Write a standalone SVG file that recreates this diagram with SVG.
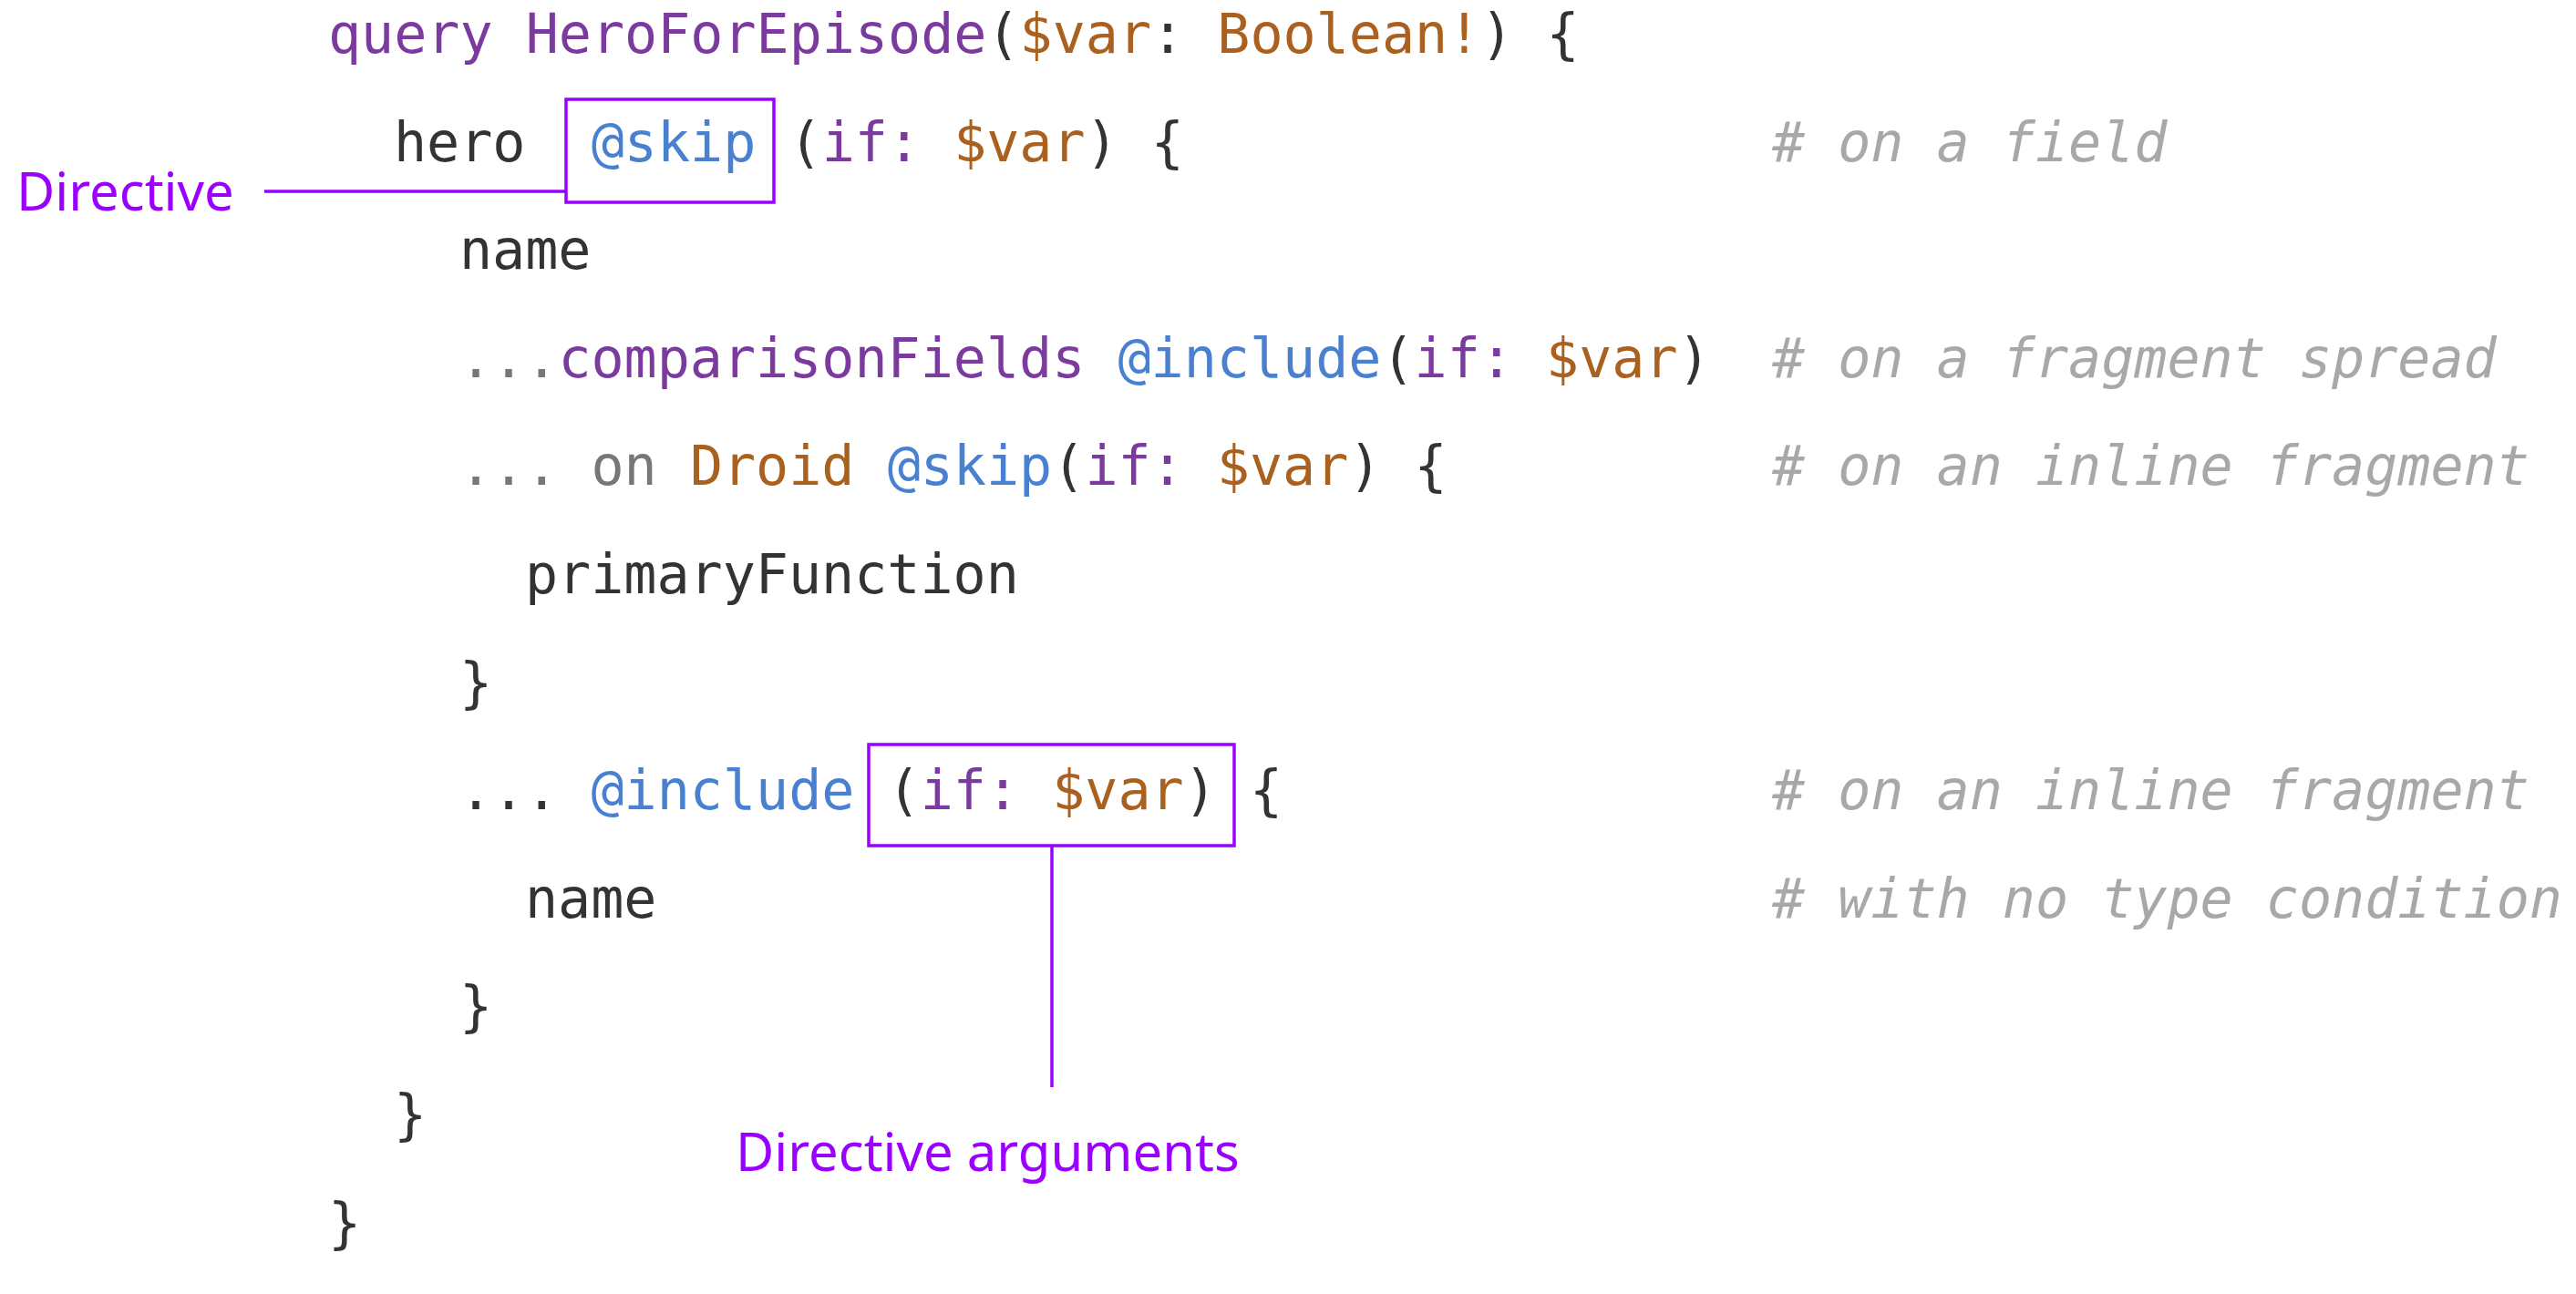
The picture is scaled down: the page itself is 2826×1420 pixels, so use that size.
<svg xmlns="http://www.w3.org/2000/svg" width="2826" height="1420" viewBox="0 0 2826 1420">
<style>
.c{font-family:"DejaVu Sans Mono","Liberation Mono",monospace;font-size:60px;fill:#333}
.k{fill:#7b3a9e}.v{fill:#aa6120}.d{fill:#4a80d0}.g{fill:#777}
.cm{fill:#a8a8a8;font-style:italic}
.lab{font-family:"Noto Sans","Open Sans",sans-serif;font-size:58px;fill:#9b00ff}
.ln{fill:none;stroke:#9b00ff;stroke-width:3.5}
</style>
<rect width="2826" height="1420" fill="#fff"/>
<g id="code" class="c">
<text x="360" y="58"><tspan class="k">query HeroForEpisode</tspan>(<tspan class="v">$var</tspan>: <tspan class="v">Boolean!</tspan>) {</text>
<text x="432" y="177">hero&#160;&#160;<tspan class="d">@skip</tspan> (<tspan class="k">if:</tspan> <tspan class="v">$var</tspan>) {</text>
<text x="504" y="295">name</text>
<text x="504" y="414"><tspan class="g">...</tspan><tspan class="k">comparisonFields</tspan> <tspan class="d">@include</tspan>(<tspan class="k">if:</tspan> <tspan class="v">$var</tspan>)</text>
<text x="504" y="532"><tspan class="g">... on</tspan> <tspan class="v">Droid</tspan> <tspan class="d">@skip</tspan>(<tspan class="k">if:</tspan> <tspan class="v">$var</tspan>) {</text>
<text x="576" y="651">primaryFunction</text>
<text x="504" y="770">}</text>
<text x="504" y="888">... <tspan class="d">@include</tspan> (<tspan class="k">if:</tspan> <tspan class="v">$var</tspan>) {</text>
<text x="576" y="1007">name</text>
<text x="504" y="1125">}</text>
<text x="432" y="1244">}</text>
<text x="360" y="1363">}</text>
<text class="cm" x="1944" y="177"># on a field</text>
<text class="cm" x="1944" y="414"># on a fragment spread</text>
<text class="cm" x="1944" y="532"># on an inline fragment</text>
<text class="cm" x="1944" y="888"># on an inline fragment</text>
<text class="cm" x="1944" y="1007"># with no type condition</text>
</g>
<g id="directive">
<rect class="ln" x="621" y="109" width="228" height="113"/>
<text class="lab" x="18" y="231">Directive</text>
</g>
<g id="directive-arguments">
<rect class="ln" x="953" y="817" width="401" height="111"/>
<text class="lab" x="807" y="1285">Directive arguments</text>
</g>
<g id="connectors">
<line class="ln" x1="290" y1="210" x2="621" y2="210"/>
<line class="ln" x1="1154" y1="928" x2="1154" y2="1193"/>
</g>
</svg>
